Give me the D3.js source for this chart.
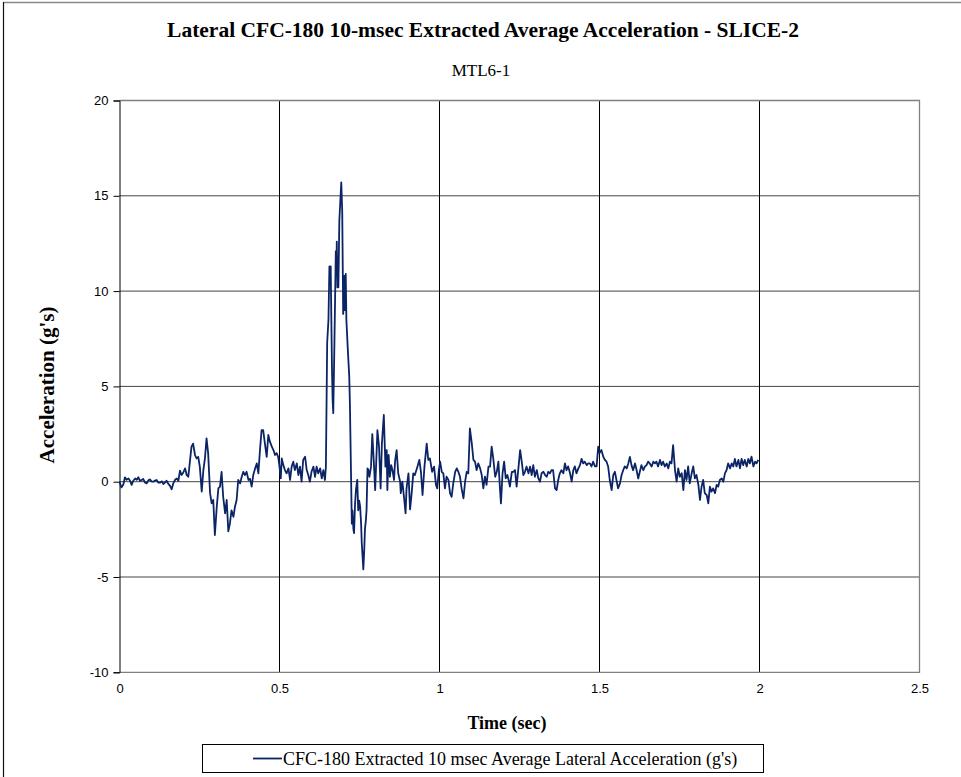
<!DOCTYPE html>
<html><head><meta charset="utf-8">
<script src="https://cdn.jsdelivr.net/npm/d3@7/dist/d3.min.js"></script>
<style>body{margin:0;background:#fff}svg{display:block}</style>
</head><body>
<svg id="chart" width="961" height="777"></svg>
<script>
const chartTitle = "Lateral CFC-180 10-msec Extracted Average Acceleration - SLICE-2";
const chartSubtitle = "MTL6-1";
const xLabel = "Time (sec)";
const yLabel = "Acceleration (g's)";
const seriesName = "CFC-180 Extracted 10 msec Average Lateral Acceleration (g's)";
const xTicks = [0, 0.5, 1, 1.5, 2, 2.5];
const yTicks = [-10, -5, 0, 5, 10, 15, 20];

const timeSec = [
0.000,0.006,0.012,0.017,0.022,0.028,0.033,0.038,0.043,0.049,0.054,0.059,0.064,0.069,0.074,0.080,0.085,0.090,0.095,0.100,0.106,0.111,0.116,0.121,0.127,0.132,0.137,0.142,0.147,0.152,0.158,0.163,0.168,0.174,0.179,0.184,0.189,0.194,0.199,0.205,0.210,0.215,0.220,0.225,0.230,0.236,0.241,0.246,0.251,0.257,0.262,0.267,0.272,0.277,0.283,0.288,0.293,0.298,0.304,0.309,0.314,0.319,0.324,0.330,0.335,0.340,0.345,0.350,0.356,0.361,0.366,0.371,0.377,0.382,0.387,0.392,0.397,0.403,0.408,0.413,0.418,0.424,0.429,0.434,0.439,0.444,0.449,0.455,0.460,0.465,0.470,0.476,0.481,0.486,0.491,0.496,0.500,0.504,0.507,0.512,0.517,0.522,0.528,0.533,0.538,0.543,0.548,0.554,0.559,0.564,0.569,0.574,0.580,0.585,0.590,0.595,0.600,0.606,0.611,0.616,0.621,0.627,0.632,0.637,0.642,0.645,0.649,0.653,0.656,0.658,0.660,0.661,0.664,0.666,0.668,0.671,0.676,0.678,0.679,0.681,0.684,0.687,0.693,0.696,0.699,0.701,0.703,0.705,0.707,0.709,0.713,0.718,0.720,0.726,0.728,0.731,0.733,0.736,0.739,0.743,0.746,0.749,0.752,0.755,0.757,0.762,0.765,0.767,0.770,0.772,0.775,0.778,0.781,0.786,0.790,0.795,0.799,0.806,0.811,0.816,0.820,0.826,0.831,0.835,0.837,0.841,0.845,0.849,0.853,0.858,0.861,0.866,0.871,0.877,0.879,0.884,0.890,0.894,0.897,0.903,0.908,0.913,0.918,0.923,0.931,0.937,0.942,0.947,0.953,0.960,0.965,0.970,0.977,0.983,0.989,0.993,0.998,1.002,1.007,1.012,1.017,1.022,1.028,1.033,1.038,1.043,1.049,1.054,1.059,1.064,1.069,1.075,1.080,1.085,1.090,1.095,1.101,1.106,1.111,1.116,1.121,1.127,1.132,1.137,1.142,1.147,1.153,1.158,1.163,1.168,1.174,1.179,1.184,1.189,1.192,1.197,1.202,1.207,1.212,1.216,1.220,1.226,1.231,1.236,1.241,1.246,1.252,1.257,1.262,1.267,1.272,1.278,1.283,1.288,1.293,1.298,1.304,1.309,1.314,1.319,1.325,1.330,1.335,1.340,1.345,1.350,1.355,1.361,1.366,1.371,1.376,1.381,1.387,1.392,1.397,1.402,1.408,1.413,1.418,1.423,1.428,1.434,1.439,1.444,1.449,1.454,1.460,1.465,1.470,1.475,1.480,1.486,1.491,1.496,1.500,1.506,1.512,1.517,1.522,1.527,1.532,1.538,1.543,1.548,1.553,1.558,1.564,1.569,1.574,1.579,1.585,1.590,1.595,1.600,1.605,1.611,1.616,1.621,1.626,1.631,1.637,1.642,1.647,1.652,1.657,1.663,1.668,1.673,1.678,1.683,1.689,1.694,1.699,1.704,1.710,1.715,1.720,1.725,1.730,1.736,1.741,1.746,1.751,1.757,1.762,1.767,1.772,1.777,1.782,1.788,1.793,1.798,1.803,1.809,1.814,1.819,1.824,1.829,1.835,1.840,1.845,1.850,1.855,1.861,1.866,1.871,1.876,1.882,1.887,1.892,1.897,1.902,1.908,1.913,1.918,1.923,1.928,1.934,1.939,1.944,1.949,1.954,1.960,1.965,1.970,1.975,1.981,1.986,1.991,1.996,2.000
];
const accelG = [
0.00,-0.30,-0.15,0.23,0.10,0.17,0.05,-0.17,0.05,0.17,0.10,0.23,0.05,0.08,0.15,-0.05,-0.09,0.07,0.12,0.02,0.00,0.06,0.09,-0.05,-0.05,0.02,-0.12,-0.05,0.05,-0.10,-0.22,-0.40,-0.09,0.10,0.17,0.05,0.58,0.35,0.47,0.70,0.35,0.26,1.05,1.84,2.00,1.40,1.22,1.30,0.79,-0.52,0.60,1.22,2.27,1.50,-0.60,-1.14,-0.96,-2.80,-1.30,-0.35,-0.26,0.52,-0.79,-1.66,-0.96,-2.60,-2.20,-1.50,-1.84,-1.30,-0.96,0.09,-0.09,0.26,0.52,0.35,0.52,0.09,0.15,-0.26,0.35,0.70,0.96,0.44,1.66,2.70,2.70,1.92,1.30,2.45,2.10,1.84,1.66,1.40,1.50,1.30,0.79,0.17,1.22,0.87,0.61,0.44,0.70,0.09,0.79,1.05,0.61,0.96,0.35,0.79,0.00,1.14,1.31,0.61,0.35,0.00,0.52,0.79,0.26,0.79,0.44,0.70,0.17,0.61,0.09,0.80,7.30,8.50,11.30,10.50,11.30,9.90,5.90,4.30,3.60,6.60,12.10,11.20,12.60,10.20,10.20,13.70,15.70,14.20,8.80,9.50,10.80,9.00,10.90,8.50,7.10,5.50,4.10,-2.20,-1.50,-2.50,-2.70,-1.20,-0.40,0.10,-1.50,-1.00,-1.30,-2.20,-3.20,-4.60,-3.50,-2.50,-2.00,-1.50,0.70,0.60,0.26,0.79,2.50,0.96,-0.44,2.70,1.84,-0.35,2.00,3.50,0.79,1.66,-0.44,1.40,0.26,0.87,0.61,0.09,1.05,1.66,0.44,0.00,-0.60,0.00,-0.96,-1.66,-0.35,0.44,-1.45,-0.61,0.44,0.35,0.79,1.14,0.52,-0.70,0.79,2.00,1.14,1.22,0.52,0.79,-0.17,-0.35,0.61,1.05,0.52,0.44,-0.35,0.26,0.09,-0.61,-0.79,-0.09,0.52,0.70,0.52,0.26,-0.35,-0.87,0.00,0.52,0.44,2.80,2.00,1.14,1.05,0.61,0.96,0.70,0.35,-0.35,0.26,-0.17,0.79,0.79,1.84,1.22,0.26,0.52,1.05,-0.35,-1.14,0.44,1.05,0.17,0.35,0.09,-0.26,0.52,0.52,0.61,-0.26,0.61,1.66,1.05,0.35,0.52,0.79,0.44,0.79,0.35,0.87,0.26,0.61,0.17,0.00,0.44,0.52,0.35,0.26,0.52,0.44,0.61,0.60,-0.35,-0.44,0.09,0.44,0.60,0.44,0.96,0.60,0.80,0.44,0.00,0.60,0.80,0.44,0.70,0.87,1.20,0.96,1.05,0.87,0.96,0.96,0.80,1.05,0.80,0.80,1.84,1.50,1.66,1.30,1.14,1.05,0.80,0.09,-0.44,0.35,0.52,0.09,-0.35,-0.09,0.35,0.60,0.80,0.70,0.96,1.30,0.87,0.60,0.96,0.60,0.17,0.52,0.87,0.60,0.80,0.87,1.05,0.96,0.80,1.05,0.96,1.05,0.80,1.14,0.87,1.05,0.80,0.96,0.70,1.05,0.96,1.92,0.60,0.00,0.70,0.26,0.44,-0.44,0.60,0.09,0.80,-0.09,0.44,0.80,0.17,0.35,-0.17,-0.96,-0.26,0.09,-0.60,-0.70,-1.14,-0.26,-0.52,-0.35,-0.60,-0.17,-0.26,0.09,0.17,0.00,0.44,0.60,0.96,0.70,0.96,0.80,1.20,0.80,1.14,0.70,1.20,0.87,1.14,0.80,1.20,0.96,1.31,0.80,1.05,0.96,1.14
];

const W = 961, H = 777;
const margin = {left: 119.5, right: 919.5, top: 100.5, bottom: 672.3};
const svg = d3.select("#chart");
const serif = "'Liberation Serif','Times New Roman',serif";
const sans = "'Liberation Sans',Arial,sans-serif";

const x = d3.scaleLinear().domain([0, 2.5]).range([margin.left, margin.right]);
const y = d3.scaleLinear().domain([-10, 20]).range([margin.bottom, margin.top]);

// outer chart frame
svg.append("line").attr("x1", 3.5).attr("x2", W).attr("y1", 2.5).attr("y2", 2.5)
  .attr("stroke", "#888").attr("stroke-width", 1.5);
svg.append("line").attr("x1", 3.5).attr("x2", 3.5).attr("y1", 2).attr("y2", H)
  .attr("stroke", "#111").attr("stroke-width", 1.2);

// title
svg.append("text").attr("x", 483).attr("y", 37).attr("text-anchor", "middle")
  .attr("font-family", serif).attr("font-weight", "bold")
  .attr("font-size", "21.5px").attr("fill", "#000").text(chartTitle);
svg.append("text").attr("x", 481).attr("y", 76).attr("text-anchor", "middle")
  .attr("font-family", serif)
  .attr("font-size", "17px").attr("fill", "#000").text(chartSubtitle);

// horizontal gridlines
svg.append("g").selectAll("line").data(yTicks.filter(d => d !== 20 && d !== -10)).join("line")
  .attr("x1", margin.left).attr("x2", margin.right)
  .attr("y1", d => y(d)).attr("y2", d => y(d))
  .attr("stroke", "#444").attr("stroke-width", 1);
// vertical gridlines
svg.append("g").selectAll("line").data(xTicks.filter(d => d > 0 && d < 2.5)).join("line")
  .attr("x1", d => x(d)).attr("x2", d => x(d))
  .attr("y1", margin.top).attr("y2", margin.bottom)
  .attr("stroke", "#000").attr("stroke-width", 1);

// plot border (gray top/right/bottom)
svg.append("path")
  .attr("d", `M${margin.left},${margin.top}H${margin.right}V${margin.bottom}H${margin.left}`)
  .attr("fill", "none").attr("stroke", "#808080").attr("stroke-width", 1.3);

// y axis
const yAxis = d3.axisLeft(y).tickValues(yTicks).tickSize(6).tickPadding(5).tickFormat(d => String(d));
const gy = svg.append("g").attr("transform", `translate(${margin.left},0)`).call(yAxis);
gy.select(".domain").attr("stroke", "#000");
gy.selectAll("line").attr("stroke", "#000");
gy.selectAll("text").attr("font-family", sans).attr("font-size", "13px").attr("fill", "#000");

// x axis labels (no ticks)
const xAxis = d3.axisBottom(x).tickValues(xTicks).tickSize(0).tickPadding(11).tickFormat(d => String(d));
const gx = svg.append("g").attr("transform", `translate(0,${margin.bottom})`).call(xAxis);
gx.select(".domain").remove();
gx.selectAll("text").attr("font-family", sans).attr("font-size", "13px").attr("fill", "#000");

// axis titles
svg.append("text").attr("transform", "translate(54,385) rotate(-90)").attr("text-anchor", "middle")
  .attr("font-family", serif).attr("font-weight", "bold")
  .attr("font-size", "21px").attr("fill", "#000").text(yLabel);
svg.append("text").attr("x", 507).attr("y", 729).attr("text-anchor", "middle")
  .attr("font-family", serif).attr("font-weight", "bold")
  .attr("font-size", "18px").attr("fill", "#000").text(xLabel);

// data line
const data = timeSec.map((t, i) => ({t, v: accelG[i]}));
const line = d3.line().x(d => x(d.t)).y(d => y(d.v));
svg.append("path").datum(data).attr("d", line)
  .attr("fill", "none").attr("stroke", "#0b2466").attr("stroke-width", 1.8)
  .attr("stroke-linejoin", "round");

// legend
const lg = svg.append("g");
lg.append("rect").attr("x", 202.5).attr("y", 744.5).attr("width", 561).attr("height", 28)
  .attr("fill", "#fff").attr("stroke", "#000").attr("stroke-width", 1);
lg.append("line").attr("x1", 253).attr("x2", 282).attr("y1", 758.5).attr("y2", 758.5)
  .attr("stroke", "#0b2466").attr("stroke-width", 1.8);
lg.append("text").attr("x", 283).attr("y", 764.5).attr("font-family", serif)
  .attr("font-size", "18px").attr("fill", "#000").text(seriesName);
</script>
</body></html>
